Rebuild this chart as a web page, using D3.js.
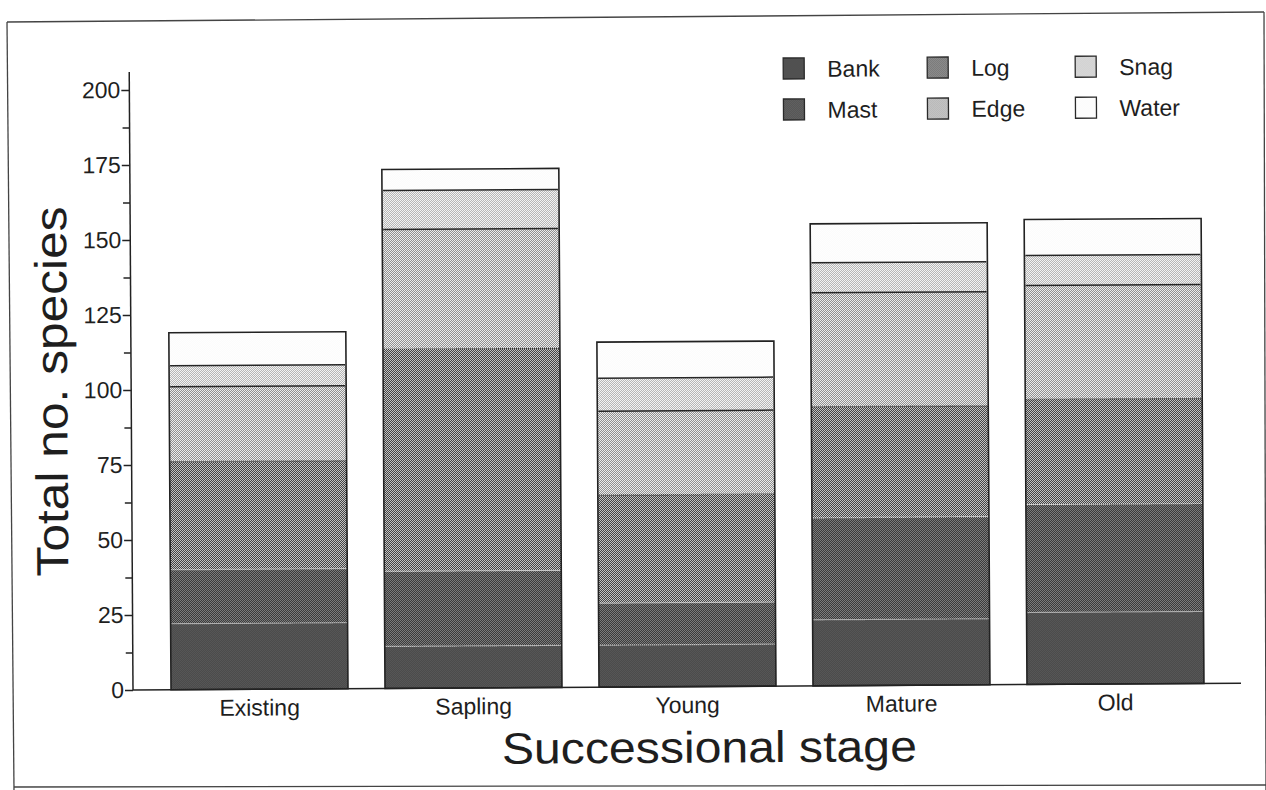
<!DOCTYPE html>
<html>
<head>
<meta charset="utf-8">
<script src="https://cdn.jsdelivr.net/npm/d3@7"></script>
<style>
  body { margin: 0; background: #fff; }
  svg { display: block; }
  text { font-family: "Liberation Sans", Arial, Helvetica, sans-serif; fill: #1e1e1e; }
</style>
</head>
<body>
<svg id="chart" width="1266" height="790"></svg>
<script>
// Species counts per habitat element, by successional stage
const stages = ["Existing", "Sapling", "Young", "Mature", "Old"];
const habitats = ["Bank", "Mast", "Log", "Edge", "Snag", "Water"];
const bank  = [22, 14, 14, 22, 24];
const mast  = [18, 25, 14, 34, 36];
const log   = [36, 74, 36, 37, 35];
const edge  = [25, 40, 28, 38, 38];
const snag  = [7, 13, 11, 10, 10];
const water = [11, 7, 12, 13, 12];
const yMajorTicks = [0, 25, 50, 75, 100, 125, 150, 175, 200];
const yMinorTicks = [12.5, 37.5, 62.5, 87.5, 112.5, 137.5, 162.5, 187.5];

const seriesValues = { Bank: bank, Mast: mast, Log: log, Edge: edge, Snag: snag, Water: water };
const table = stages.map((s, i) => {
  const row = { stage: s };
  habitats.forEach(h => { row[h] = seriesValues[h][i]; });
  return row;
});

const svg = d3.select("#chart");
const defs = svg.append("defs");

// the printed figure sits very slightly askew on the page
const tilt = -0.35, ox = 133, oy = 690;

// halftone screens: two-tone 1px checkerboards
const screens = {
  Bank:  ["#4b4b4b", "#565656"],
  Mast:  ["#3b3b3b", "#7c7c7c"],
  Log:   ["#444444", "#c2c2c2"],
  Edge:  ["#909090", "#ececec"],
  Snag:  ["#b6b6b6", "#f3f3f3"],
  Water: ["#fbfbfb", "#fefefe"]
};
habitats.forEach(h => {
  const c = screens[h];
  const p = defs.append("pattern")
    .attr("id", "tex-" + h)
    .attr("patternUnits", "userSpaceOnUse")
    .attr("width", 2).attr("height", 2)
    .attr("patternTransform", `rotate(${-tilt} ${ox} ${oy})`);
  p.append("rect").attr("width", 2).attr("height", 2).attr("fill", c[0]);
  p.append("rect").attr("x", 0).attr("y", 0).attr("width", 1).attr("height", 1).attr("fill", c[1]);
  p.append("rect").attr("x", 1).attr("y", 1).attr("width", 1).attr("height", 1).attr("fill", c[1]);
});

// page frame
const frame = svg.append("g").attr("stroke", "#444").attr("stroke-width", 1.3).attr("fill", "none");
frame.append("line").attr("x1", 7).attr("y1", 22).attr("x2", 1264).attr("y2", 12);
frame.append("line").attr("x1", 7).attr("y1", 22).attr("x2", 14).attr("y2", 790);
frame.append("line").attr("x1", 14).attr("y1", 787).attr("x2", 1266).attr("y2", 785);
frame.append("line").attr("x1", 1264).attr("y1", 12).attr("x2", 1266).attr("y2", 790);

const g = svg.append("g").attr("transform", `rotate(${tilt} ${ox} ${oy})`);

const x = d3.scaleBand().domain(stages).range([134, 1241]).paddingInner(0.173).paddingOuter(0.173);
const y = d3.scaleLinear().domain([0, 200]).range([690, 90]);

const stacked = d3.stack().keys(habitats)(table);

// stacked segments
const layers = g.append("g").selectAll("g").data(stacked).join("g")
  .attr("fill", d => `url(#tex-${d.key})`);
layers.selectAll("rect").data(d => d.map(v => ({ key: d.key, v }))).join("rect")
  .attr("x", d => x(d.v.data.stage))
  .attr("width", x.bandwidth())
  .attr("y", d => y(d.v[1]))
  .attr("height", d => y(d.v[0]) - y(d.v[1]));

// boundaries between segments
const edgeStyle = {
  Bank:  { stroke: "#d8d8d8", dash: "1,1", w: 1.2 },
  Mast:  { stroke: "#e2e2e2", dash: "1,1", w: 1.2 },
  Log:   { stroke: "#2a2a2a", dash: "1,1", w: 1.3 },
  Edge:  { stroke: "#262626", dash: null, w: 1.5 },
  Snag:  { stroke: "#262626", dash: null, w: 1.5 }
};
stacked.filter(s => edgeStyle[s.key]).forEach(s => {
  const st = edgeStyle[s.key];
  g.append("g").selectAll("line").data(s).join("line")
    .attr("x1", d => x(d.data.stage) + 1)
    .attr("x2", d => x(d.data.stage) + x.bandwidth() - 1)
    .attr("y1", d => y(d[1]))
    .attr("y2", d => y(d[1]))
    .attr("stroke", st.stroke)
    .attr("stroke-width", st.w)
    .attr("stroke-dasharray", st.dash);
});

// bar outlines
const totals = stacked[stacked.length - 1];
g.append("g").selectAll("rect").data(totals).join("rect")
  .attr("x", d => x(d.data.stage))
  .attr("width", x.bandwidth())
  .attr("y", d => y(d[1]))
  .attr("height", d => y(0) - y(d[1]))
  .attr("fill", "none")
  .attr("stroke", "#222")
  .attr("stroke-width", 1.6);

// y axis
const yAxis = g.append("g").attr("transform", `translate(${ox},0)`)
  .call(d3.axisLeft(y).tickValues(yMajorTicks).tickSize(8).tickPadding(1).tickFormat(d3.format("d")));
yAxis.select(".domain").remove();
yAxis.selectAll(".tick line").attr("stroke", "#222").attr("stroke-width", 1.4);
yAxis.selectAll(".tick text").style("font-size", "23px").attr("fill", "#1e1e1e");

const yMinor = g.append("g").attr("transform", `translate(${ox},0)`)
  .call(d3.axisLeft(y).tickValues(yMinorTicks).tickSize(7).tickFormat(""));
yMinor.select(".domain").remove();
yMinor.selectAll(".tick line").attr("stroke", "#222").attr("stroke-width", 1.4);

g.append("line").attr("x1", ox).attr("x2", ox).attr("y1", 72).attr("y2", y(0))
  .attr("stroke", "#222").attr("stroke-width", 1.5);

// x axis
g.append("line").attr("x1", ox).attr("x2", 1241).attr("y1", y(0)).attr("y2", y(0))
  .attr("stroke", "#222").attr("stroke-width", 1.5);
const xAxis = g.append("g").attr("transform", `translate(0,${y(0)})`)
  .call(d3.axisBottom(x).tickSize(0).tickPadding(10));
xAxis.select(".domain").remove();
xAxis.selectAll(".tick text").style("font-size", "23px").attr("fill", "#1e1e1e");

// axis titles
g.append("text")
  .attr("x", 709).attr("y", 766)
  .attr("text-anchor", "middle")
  .attr("textLength", 415).attr("lengthAdjust", "spacingAndGlyphs")
  .style("font-size", "44px")
  .text("Successional stage");

g.append("text")
  .attr("transform", "translate(69,391) rotate(-90)")
  .attr("text-anchor", "middle")
  .attr("textLength", 370).attr("lengthAdjust", "spacingAndGlyphs")
  .style("font-size", "45px")
  .text("Total no. species");

// legend: three columns of two
const legendCols = [787, 931, 1079];
const legendRows = [62, 103];
const legend = g.append("g").selectAll("g").data(habitats).join("g")
  .attr("transform", (d, i) => `translate(${legendCols[Math.floor(i / 2)]},${legendRows[i % 2]})`);
legend.append("rect")
  .attr("width", 21).attr("height", 21)
  .attr("fill", d => `url(#tex-${d})`)
  .attr("stroke", "#2a2a2a").attr("stroke-width", 1.3);
legend.append("text")
  .attr("x", 44).attr("y", 19)
  .style("font-size", "23px")
  .text(d => d);
</script>
</body>
</html>
